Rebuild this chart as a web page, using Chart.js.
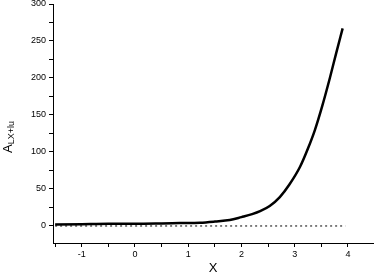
<!DOCTYPE html>
<html>
<head>
<meta charset="utf-8">
<script src="https://cdn.jsdelivr.net/npm/chart.js@4"></script>
<style>
  html, body { margin: 0; padding: 0; background: #fff; }
  #wrap { width: 376px; height: 280px; }
</style>
</head>
<body>
<div id="wrap"><canvas id="c" width="376" height="280"></canvas></div>
<script>
// values
const xVals = [-1.5, -1, -0.5, 0, 0.5, 0.84, 1.22, 1.5, 1.78, 2, 2.2, 2.35, 2.53, 2.72, 2.9, 3.1, 3.25, 3.38, 3.52, 3.66, 3.78, 3.9];
const yVals = [2, 2.5, 3, 3, 3.5, 4, 4.5, 6, 8, 12, 16, 20, 27, 39, 56, 80, 105, 130, 163, 200, 234, 267];
const zeroX = [-1.5, 3.95];
const zeroY = [0, 0];
const xTickVals = [-1.5, -1, -0.5, 0, 0.5, 1, 1.5, 2, 2.5, 3, 3.5, 4];
const yTickVals = [0, 25, 50, 75, 100, 125, 150, 175, 200, 225, 250, 275, 300];

const curve = xVals.map((x, i) => ({ x: x, y: yVals[i] }));
const zero = zeroX.map((x, i) => ({ x: x, y: zeroY[i] }));

const tickFont = { family: 'Liberation Sans, Arial, sans-serif', size: 9 };
const isInt = v => Math.abs(v - Math.round(v)) < 1e-6;

// y title with subscript
const yTitle = {
    id: 'yTitle',
    afterDraw(chart) {
        const ctx = chart.ctx;
        ctx.save();
        ctx.translate(12, 137);
        ctx.rotate(-Math.PI / 2);
        ctx.fillStyle = '#000';
        ctx.textBaseline = 'alphabetic';
        ctx.font = '13px Liberation Sans, Arial, sans-serif';
        const wA = ctx.measureText('A').width;
        ctx.font = '9px Liberation Sans, Arial, sans-serif';
        const wS = ctx.measureText('LX+lu').width;
        const start = -(wA + wS) / 2;
        ctx.font = '13px Liberation Sans, Arial, sans-serif';
        ctx.fillText('A', start, 0);
        ctx.font = '9px Liberation Sans, Arial, sans-serif';
        ctx.fillText('LX+lu', start + wA, 2);
        ctx.restore();
    }
};

new Chart(document.getElementById('c'), {
    type: 'scatter',
    data: {
        datasets: [
            {
                data: curve,
                showLine: true,
                borderColor: '#000',
                borderWidth: 2.5,
                pointRadius: 0,
                cubicInterpolationMode: 'monotone'
            },
            {
                data: zero,
                showLine: true,
                borderColor: '#000',
                borderWidth: 1,
                borderDash: [2, 3],
                pointRadius: 0
            }
        ]
    },
    options: {
        responsive: false,
        animation: false,
        events: [],
        layout: { padding: { top: 4, right: 3, left: 0, bottom: 0 } },
        plugins: { legend: { display: false }, tooltip: { enabled: false } },
        scales: {
            x: {
                type: 'linear',
                min: -1.54,
                max: 4.47,
                afterBuildTicks: s => { s.ticks = xTickVals.map(v => ({ value: v })); },
                afterFit: s => { s.height = 37; s.paddingLeft = 0; s.paddingRight = 0; },
                ticks: {
                    color: '#000',
                    font: tickFont,
                    maxRotation: 0,
                    autoSkip: false,
                    padding: 2,
                    callback: v => isInt(v) ? String(Math.round(v)) : ''
                },
                grid: { drawOnChartArea: false, color: '#000', tickLength: 4 },
                border: { color: '#000', width: 1 },
                title: {
                    display: true,
                    text: 'X',
                    color: '#000',
                    font: { family: 'Liberation Sans, Arial, sans-serif', size: 13 },
                    padding: { top: 5 }
                }
            },
            y: {
                min: -23,
                max: 300,
                afterBuildTicks: s => { s.ticks = yTickVals.map(v => ({ value: v })); },
                afterFit: s => { s.width = 53; s.paddingTop = 0; s.paddingBottom = 0; },
                ticks: {
                    color: '#000',
                    font: tickFont,
                    padding: 3,
                    callback: v => v % 50 === 0 ? String(v) : ''
                },
                grid: { drawOnChartArea: false, color: '#000', tickLength: 4 },
                border: { color: '#000', width: 1 }
            }
        }
    },
    plugins: [yTitle]
});
</script>
</body>
</html>
